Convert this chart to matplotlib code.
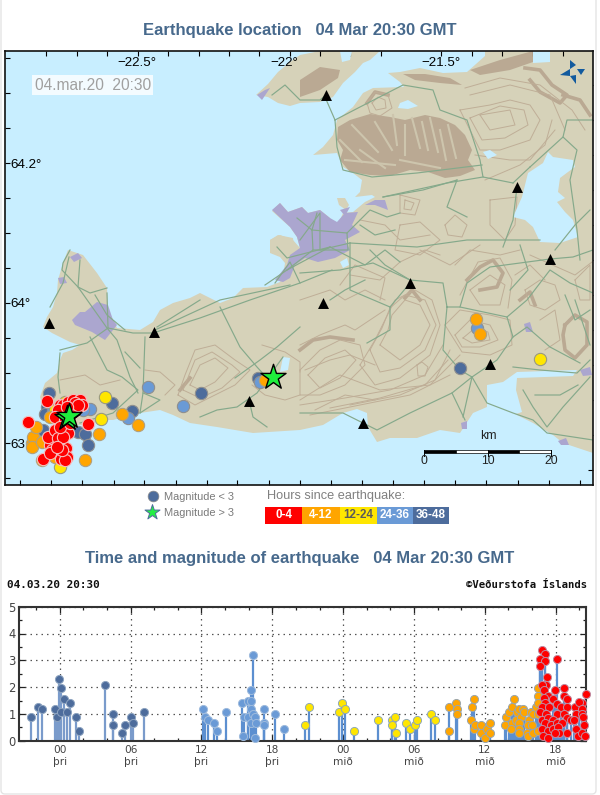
import numpy as np
import matplotlib
matplotlib.use("Agg")
import matplotlib.pyplot as plt
from matplotlib.patches import Polygon, Rectangle, FancyBboxPatch

# ---------- timeline data: hours relative to 00:00 Tuesday, magnitude ----------
t_36_48 = [-2.46,-1.84,-1.53,-.42,-.23,-.06,.14,.34,.14,.59,.88,1.36,1.61,3.84,4.49,4.49,5.31,5.51,6.07,6.16,7.09]
m_36_48 = [.87,1.27,1.18,1.18,.87,2.29,1.96,1.55,1.08,1.08,1.39,.87,.37,2.09,.99,.58,.30,.58,.87,.65,1.07]
t_24_36 = [12.09,12.29,12.57,13.02,13.31,14.04,15.42,15.5,15.62,15.9,15.9,16.16,16.16,16.16,16.16,16.36,16.36,16.53,16.6,16.55,17.29,17.29,17.29,18.22,18.95]
m_24_36 = [1.18,.87,.77,.66,.37,1.07,1.39,.17,.87,1.47,.87,1.89,1.47,1.18,.65,3.18,.99,.87,.65,.09,1.18,.65,.58,.99,.45]
t_12_24 = [20.78,21.15,23.66,23.94,24.2,24.93,26.97,28.18,28.18,28.38,28.46,29.31,29.68,30.07,30.24,31.43,31.8]
m_12_24 = [.58,1.27,1.07,1.39,1.18,.37,.77,.77,.58,.87,.30,.66,.45,.58,.77,.99,.77]
t_4_12 = [33.01,33.01,33.55,33.66,33.66,34.85,34.96,35.05,35.05,35.16,35.69,35.69,36.06,36.23,36.43,36.43,37.7,37.81,38.07,38.27,38.27,38.18,38.46,38.69,38.66,38.92,39.03,38.92,38.92,38.92,39.25,39.31,39.76,39.9,40.1,39.68,39.96,39.54,39.68,40.1,40.3,40.5,40.5,40.5,40.5,40.5]
m_4_12 = [1.27,.37,1.39,1.18,.99,.77,1.27,1.55,.45,.58,.58,.30,.09,.45,.66,.30,.58,.87,1.07,1.27,.66,.45,1.55,1.07,.77,1.18,.87,.65,.45,.27,1.18,1.07,.77,1.07,.99,.58,.58,.30,.17,.30,1.27,1.96,1.68,1.39,.99,.37]
t_0_4 = [40.89,41.09,40.67,41.09,40.67,42.16,41.26,41.15,40.81,40.98,41.91,42.73,41.32,40.98,41.77,42.73,42.98,41.09,42.14,40.89,41.4,42.45,42.93,43.63,44.2,44.54,44.0,40.72,41.15,42.08,42.7,43.69,44.2,44.2,40.89,41.37,41.8,42.93,43.27,43.6,44.28,41.09,41.57,42.08,42.56,44.39,40.89,41.37,41.8,42.2,42.93,43.75,42.3,40.95,41.32,41.94,43.9,44.2,44.5]
m_0_4 = [3.38,3.25,3.06,2.98,2.78,3.06,2.36,2.07,2.07,1.89,1.89,1.96,1.66,1.6,1.54,1.66,1.55,1.39,1.37,1.27,1.27,1.27,1.27,1.27,1.39,1.76,1.45,1.08,.99,.99,.99,.99,1.18,.99,.77,.83,.77,.83,.77,.77,.87,.65,.58,.65,.65,.58,.42,.37,.45,.52,.3,.45,.3,.17,.09,.3,.17,.3,.17]
hour_ticks = [0, 6, 12, 18, 24, 30, 36, 42]
hour_labels = ["00\nþri","06\nþri","12\nþri","18\nþri","00\nmið","06\nmið","12\nmið","18\nmið"]

# ---------- map events, in map grid units ----------
ex_36_48 = [49,47,45,112,132,78,85,88,43,201,460,258]
ey_36_48 = [393,407,414,403,411,432,434,445,430,393,368,378]
ex_24_36 = [90,148,183,128,83,260,477,53]
ey_24_36 = [409,387,406,418,410,382,328,410]
ex_12_24 = [105,101,60,540,65,55]
ey_12_24 = [397,419,467,359,402,410]
ex_4_12 = [122,138,99,85,32,33,36,32,42,50,55,42,476,480,265]
ey_4_12 = [414,425,434,460,443,437,427,447,442,417,457,460,319,334,380]
ex_0_4 = [28,47,88,43,61,66,68,50,50,52,50,48,55,58,63,67,65,62,57,60,63,68,73,80,82,77,72,62,58,55,75,65,60,70,78,67]
ey_0_4 = [422,401,424,459,459,448,433,440,445,450,453,437,430,438,437,457,460,450,447,405,405,402,400,400,405,408,413,413,410,417,403,420,427,423,405,407]
star_x = [67, 69, 273]
star_y = [418, 416, 377]
station_x = [326,517,550,410,323,49,154,249,490,363]
station_y = [95,187,259,283,303,323,332,401,364,423]

# ---------- map graticule ----------
top_ticks = [46,77,107,138,168,199,229,259,290,320,350,381,441,472,502,533,563]
bottom_ticks = [20,51,82,114,144,176,207,237,269,300,331,362,393,424,455,486,518,549,580]
left_ticks = [58,93,128,163,198,233,268,303,338,373,408,443,478]
right_ticks = [85,120,155,190,225,260,295,330,365,400,435,470]

# ---------- map geography ----------
land_main = [(533,51),(485,51),(485,56),(467,72),(443,73),(420,68),(400,72),(388,73),(400,82),(404,87),(373,88),(363,93),(353,107),(337,120),(333,135),(323,147),(313,155),(337,153),(343,167),(353,173),(362,180),(360,192),(355,197),(372,195),(375,197),(365,202),(353,212),(343,213),(338,225),(331,227),(330,218),(320,210),(308,213),(302,207),(288,212),(280,203),(272,211),(290,227),(297,237),(300,248),(293,240),(280,235),(270,240),(270,253),(280,257),(285,263),(283,277),(280,282),(267,287),(243,288),(233,298),(220,303),(200,293),(190,298),(173,303),(160,310),(153,322),(140,330),(117,328),(108,310),(107,288),(97,273),(83,255),(68,250),(63,263),(58,280),(57,293),(53,307),(47,317),(43,327),(52,333),(70,342),(80,345),(72,350),(63,353),(60,360),(57,373),(45,383),(40,397),(45,412),(62,425),(85,425),(107,420),(113,420),(140,413),(160,410),(173,415),(190,423),(217,427),(253,433),(300,430),(323,425),(343,413),(357,409),(367,413),(368,427),(377,442),(390,438),(417,438),(440,430),(460,433),(473,413),(487,407),(513,413),(533,423),(553,435),(563,443),(593,453),(593,51)]
land_north = [(256,95),(268,84),(278,72),(290,62),(300,55),(320,51),(380,51),(370,60),(363,63),(355,72),(343,83),(333,97),(320,102),(300,103),(290,106),(278,103),(268,97)]
land_islands = [[(337,198),(345,198),(349,205),(346,210),(339,205)],[(270,240),(278,235),(293,238),(294,248),(280,256),(270,252)]]
water_bodies = [
    [(548,152),(553,157),(573,160),(575,167),(568,172),(560,178),(558,192),(565,198),(557,202),(565,212),(573,220),(578,237),(560,243),(540,242),(533,227),(525,220),(513,217),(522,197),(528,173),(543,163)],
    [(487,385),(503,382),(517,372),(577,370),(573,376),(517,378),(516,390),(522,412),(513,415),(487,410),(487,400)],
    [(400,103),(408,100),(418,106),(408,109),(398,108)],
    [(483,152),(490,150),(497,155),(488,159)],
    [(340,262),(347,258),(349,265),(343,268)],
    [(283,357),(290,358),(288,370),(280,372)],
    [(533,51),(550,51),(550,62),(533,63)],
    [(340,51),(352,51),(350,60),(342,62)],
]
urban_areas = [
    [(272,210),(280,203),(288,212),(302,207),(308,213),(320,210),(330,218),(337,222),(345,213),(358,212),(352,225),(360,232),(345,240),(350,250),(335,258),(318,262),(305,258),(295,265),(290,278),(283,282),(275,280),(287,265),(290,255),(300,248),(297,237),(290,227)],
    [(365,205),(375,200),(385,200),(388,210),(375,205)],
    [(72,320),(80,312),(85,312),(97,302),(108,305),(113,320),(117,325),(105,340),(92,332),(75,325)],
    [(58,278),(64,277),(67,283),(60,284)],
    [(257,95),(265,90),(270,88),(262,100)],
    [(524,324),(530,322),(533,332),(526,332)],
    [(461,423),(467,421),(467,429),(462,429)],
    [(580,370),(590,367),(592,375),(583,376)],
    [(558,441),(566,438),(569,445),(561,445)],
    [(70,257),(78,253),(82,258),(74,262)],
    [(340,210),(350,207),(345,216)],
]
mountain_areas = [
    [(338,127),(350,120),(370,114),(390,117),(405,120),(425,115),(440,118),(455,125),(465,135),(472,150),(468,160),(475,170),(460,176),(445,178),(428,172),(410,170),(390,176),(370,175),(350,172),(340,160),(343,150),(337,140)],
    [(300,80),(320,67),(340,70),(338,78),(320,90),(300,97)],
    [(470,70),(500,60),(533,51),(533,62),(510,70),(480,75)],
    [(403,74),(425,74),(450,78),(462,85),(440,83),(415,80)],
]
mountain_notches = [[(393,115),(397,145)],[(412,118),(420,148)],[(430,118),(438,152)],[(448,125),(456,158)],[(352,125),(378,152)],[(340,140),(362,162)],[(375,122),(392,150)],[(405,125),(405,155)],[(422,122),(428,150)],[(440,130),(446,160)],[(345,160),(395,165)],[(400,160),(440,168)],[(360,150),(385,168)]]
ridges = [
    [(300,350),(313,340),(330,337),(353,340)],
    [(467,280),(480,267),(493,260),(503,273),(497,287),(480,290)],
    [(565,325),(575,315),(587,322),(587,345),(575,358),(565,350),(563,335),(565,325)],
    [(405,298),(412,290),(420,300)],
    [(525,68),(540,70),(552,85),(567,95),(560,103),(540,92),(530,80)],
    [(563,95),(580,100),(590,115)],
    [(367,103),(375,92),(388,95)],
    [(520,300),(530,292),(535,305)],
    [(180,390),(190,378)],
]
contours = [
    [(380,345),(388,330),(392,315),(405,300),(420,305),(430,325),(420,345),(400,360),(380,345)],
    [(360,365),(375,340),(385,320),(395,300),(415,290),(432,300),(440,325),(430,355),(400,378),(375,385),(360,365)],
    [(370,350),(382,328),(390,308),(405,295),(425,300),(436,325),(425,350),(400,368),(380,372),(370,350)],
    [(350,405),(400,395),(435,380),(450,350)],
    [(310,415),(360,405),(410,395),(450,375)],
    [(330,408),(380,398),(425,385),(448,360)],
    [(300,405),(345,398),(390,390),(425,375),(443,345)],
    [(300,370),(320,350),(340,340),(360,345),(365,365),(345,385),(320,395),(300,395),(300,370)],
    [(308,375),(325,358),(345,350),(356,360),(340,378),(320,388),(308,375)],
    [(300,345),(320,335),(345,325),(355,330),(385,310)],
    [(417,365),(422,362),(428,367),(425,376),(418,376),(417,365)],
    [(445,325),(460,310),(490,315),(510,320),(512,345),(490,355),(462,352),(445,325)],
    [(455,335),(470,320),(490,325),(498,340),(480,347),(462,347),(455,335)],
    [(463,338),(475,328),(488,332),(490,340),(472,343),(463,338)],
    [(60,380),(85,375),(100,385),(120,380)],
    [(178,395),(185,375),(195,350),(215,345),(235,360),(250,370),(235,385),(215,395),(195,405),(178,395)],
    [(190,385),(200,365),(215,358),(228,368),(215,382),(200,390),(190,385)],
    [(183,390),(195,360),(212,352),(232,365),(240,372),(222,388),(200,398),(183,390)],
    [(460,110),(490,105),(510,100),(530,105),(540,120),(530,140),(500,150),(480,150),(470,130),(460,110)],
    [(480,115),(510,110),(515,125),(490,130),(480,115)],
    [(470,118),(500,106),(524,110),(528,125),(505,138),(482,140),(470,118)],
    [(475,155),(510,160),(530,160),(555,130)],
    [(470,95),(510,85),(550,95),(565,130)],
    [(465,88),(500,78),(540,85),(572,110),(585,130)],
    [(485,180),(520,165),(545,145),(552,120)],
    [(445,225),(455,215),(467,225),(462,237),(448,235),(445,225)],
    [(400,195),(420,200),(415,215),(400,213),(400,195)],
    [(405,200),(414,203),(411,210),(404,209),(405,200)],
    [(490,200),(517,197),(515,225),(505,240),(490,225),(490,200)],
    [(367,103),(375,92),(388,95),(392,108),(380,116),(370,113),(367,103)],
    [(372,103),(378,97),(385,100),(386,108),(376,110),(372,103)],
    [(525,290),(540,280),(555,285),(560,300),(545,310),(530,305),(525,290)],
    [(470,290),(490,275),(505,285),(500,305),(480,305),(470,290)],
    [(460,295),(478,262),(500,258),(512,280),(508,308)],
    [(575,280),(590,265),(590,300),(580,300),(575,280)],
    [(300,300),(330,290),(345,300),(365,290),(385,300)],
    [(350,275),(380,280),(400,262),(425,250),(440,255)],
    [(455,265),(470,250),(500,255),(520,250)],
    [(360,220),(385,225),(400,240),(430,235)],
    [(300,400),(340,375),(380,390),(430,385),(460,355)],
    [(315,410),(345,395),(375,400)],
    [(540,320),(555,310),(560,340),(545,350)],
    [(305,370),(330,360),(350,355),(375,365)],
    [(420,250),(450,265),(480,245)],
    [(145,370),(160,372),(175,385),(165,395)],
    [(252,385),(265,395),(285,400),(300,395)],
    [(262,345),(285,352),(300,362),(300,372)],
    [(530,255),(575,275),(592,262)],
    [(515,275),(530,265),(545,280)],
    [(380,300),(385,278),(355,265),(340,285)],
    [(400,225),(420,222),(440,240),(420,255),(395,250),(400,225)],
]
roads = [
    [(153,333),(200,318),(250,300),(300,283),(332,270)],
    [(155,330),(220,300),(290,285)],
    [(70,250),(63,263),(62,270),(78,287),(107,328),(117,340),(130,377),(138,393)],
    [(69,257),(63,283),(50,307)],
    [(80,260),(78,287),(90,293),(107,288)],
    [(107,293),(108,328),(133,333),(153,333)],
    [(60,350),(87,343),(108,328)],
    [(90,337),(107,370),(122,377),(138,390),(113,413),(80,423)],
    [(145,337),(143,393),(140,413)],
    [(200,417),(217,410),(237,407),(257,393),(283,357)],
    [(220,307),(240,347),(257,367),(267,378)],
    [(300,327),(277,347),(260,360),(235,378)],
    [(200,300),(157,327)],
    [(249,400),(253,417),(267,427)],
    [(60,353),(58,377),(60,393)],
    [(300,273),(340,270),(373,263),(410,280),(443,283),(447,307),(443,350),(460,370),(472,377),(497,360),(513,337),(507,317),(460,307),(447,307)],
    [(460,307),(467,283),(490,267),(550,259),(573,257),(593,250)],
    [(300,413),(343,413),(377,430),(410,413),(452,393),(472,377)],
    [(452,393),(465,420)],
    [(472,377),(463,417)],
    [(472,377),(487,403),(513,413),(533,420),(547,433),(593,440)],
    [(523,390),(533,407),(547,427),(563,407),(590,377)],
    [(513,367),(540,370),(577,373),(590,360)],
    [(513,337),(527,327),(550,347),(580,363)],
    [(390,307),(390,330),(367,343)],
    [(390,307),(410,283)],
    [(507,317),(527,300),(550,270),(570,283),(593,293)],
    [(335,120),(325,97)],
    [(335,120),(360,107),(403,85),(433,90),(440,110),(467,120),(480,160),(483,177),(513,183)],
    [(335,120),(337,147),(343,170),(372,177),(417,173),(482,165)],
    [(383,197),(447,183),(483,177)],
    [(383,197),(423,190),(457,180)],
    [(457,180),(447,207),(467,217)],
    [(350,243),(417,247),(467,240),(503,240),(540,240)],
    [(517,187),(513,220),(503,247)],
    [(530,167),(563,137),(577,150),(570,180),(577,230),(580,260)],
    [(563,137),(567,120),(593,120)],
    [(300,240),(320,213),(320,250),(350,243)],
    [(297,218),(312,230),(317,213)],
    [(312,230),(313,250),(287,270)],
    [(312,230),(347,233),(348,250),(313,250)],
    [(277,247),(287,258),(330,247)],
    [(265,285),(287,270),(330,247)],
    [(347,233),(370,210),(387,217),(400,213)],
    [(272,95),(285,85),(300,100),(320,100),(326,95)],
    [(350,243),(350,290),(390,307)],
    [(300,283),(290,262),(275,283)],
    [(513,183),(530,167)],
    [(555,250),(575,225),(590,210)],
    [(575,300),(585,330),(590,345)],
    [(370,250),(385,265),(410,280)],
    [(330,247),(365,265),(385,250),(400,262)],
    [(140,413),(160,400),(143,393)],
    [(125,352),(140,368)],
    [(95,295),(107,315),(125,330)],
    [(360,225),(375,235),(395,230)],
    [(535,395),(560,395),(578,385)],
    [(565,295),(575,320),(590,310)],
    [(520,245),(528,270),(510,290)],
    [(330,300),(345,290),(365,280)],
]
compass_vanes = [[(570,60),(576,65),(570,69)],[(585,69),(577,69),(581,75)],[(560,75),(570,69),(570,76)],[(570,76),(576,84),(576,75)]]
legend_spans = [(265,302,"0-4"),(302,339.5,"4-12"),(339.5,377,"12-24"),(377,413,"24-36"),(413,449,"36-48")]

# ---------- colours ----------
SEA, LAND, BROWN, CONT = "#c8eeff", "#d6d2b9", "#baa993", "#bfae97"
URBAN, ROAD = "#aba6cf", "#85a98b"
C_RED, C_ORANGE, C_YELLOW, C_LBLUE, C_DBLUE = "#ff0000", "#ffa500", "#ffe600", "#6a9ad6", "#4d6c9c"
C_TITLE = "#47698c"
SANS = "Liberation Sans"
W, H = 600, 795

fig = plt.figure(figsize=(W/100, H/100), dpi=100, facecolor="white")
def axes_px(x0, y0, x1, y1, **kw):
    return fig.add_axes([x0/W, 1-y1/H, (x1-x0)/W, (y1-y0)/H], **kw)

# ---------- page layer ----------
page = axes_px(0, 0, W, H, zorder=0)
page.set_xlim(0, W); page.set_ylim(H, 0); page.axis("off")
page.add_patch(FancyBboxPatch((1, -8), 595, 802, boxstyle="round,pad=0,rounding_size=4", fc="white", ec="#e4e4e4", lw=1))
page.text(300, 30, "Earthquake location   04 Mar 20:30 GMT", ha="center", va="center", fontsize=12, fontweight="bold", color=C_TITLE, family=SANS)
page.text(300, 559, "Time and magnitude of earthquake   04 Mar 20:30 GMT", ha="center", va="center", fontsize=12, fontweight="bold", color=C_TITLE, family=SANS)
page.text(7, 585, "04.03.20 20:30", ha="left", va="center", fontsize=7.9, fontweight="bold", family="DejaVu Sans Mono", color="#111111")
page.text(587, 585, "©Veðurstofa Íslands", ha="right", va="center", fontsize=7.7, fontweight="bold", family="DejaVu Sans Mono", color="#111111")

page.scatter([153], [496], s=60, c=C_DBLUE, edgecolors="#8a8a8a", linewidths=.5)
page.scatter([152], [512], s=130, c="#22ee44", marker="*", edgecolors=C_DBLUE, linewidths=.7)
page.text(164, 497, "Magnitude < 3", va="center", fontsize=7.9, color="#7a7a7a", family=SANS)
page.text(164, 513, "Magnitude > 3", va="center", fontsize=7.9, color="#7a7a7a", family=SANS)
page.text(267, 496, "Hours since earthquake:", va="center", fontsize=9.2, color="#808080", family=SANS)
for (a, b, lab), col in zip(legend_spans, [C_RED, C_ORANGE, C_YELLOW, C_LBLUE, C_DBLUE]):
    page.add_patch(Rectangle((a, 507), b-a, 17, fc=col, ec="none"))
    page.text((a+b)/2, 515.5, lab, ha="center", va="center", fontsize=8.4, fontweight="bold",
              color="#5a5a5a" if lab == "12-24" else "white", family=SANS)

# ---------- map ----------
ax = axes_px(4.5, 50.7, 593, 485, zorder=2, facecolor=SEA)
ax.set_xlim(4.5, 593); ax.set_ylim(485, 50.7)
for p in [land_main, land_north] + land_islands:
    ax.add_patch(Polygon(p, closed=True, fc=LAND, ec="none", zorder=1))
for p in mountain_areas:
    ax.add_patch(Polygon(p, closed=True, fc=BROWN, ec="none", zorder=1.2))
for l in mountain_notches:
    ax.plot(*zip(*l), color="#cdc5ad", lw=1.5, zorder=1.3)
for l in ridges:
    ax.plot(*zip(*l), color=BROWN, lw=2.6, zorder=1.4, solid_joinstyle="round")
for l in contours:
    ax.plot(*zip(*l), color=CONT, lw=.7, zorder=1.5)
for p in urban_areas:
    ax.add_patch(Polygon(p, closed=True, fc=URBAN, ec="none", zorder=1.7))
for p in water_bodies:
    ax.add_patch(Polygon(p, closed=True, fc=SEA, ec="none", zorder=1.8))
for l in roads:
    ax.plot(*zip(*l), color=ROAD, lw=.85, zorder=2)
for p in compass_vanes:
    ax.add_patch(Polygon(p, closed=True, fc="#125a9e", ec="none", zorder=2.2))
ax.scatter(station_x, station_y, s=62, marker="^", c="black", linewidths=0, zorder=3)

ax.set_xticks(top_ticks); ax.set_yticks(left_ticks)
ax.tick_params(axis="x", which="major", direction="in", top=True, bottom=False, labeltop=False, labelbottom=False, length=3.5, width=.8)
ax.tick_params(axis="y", which="major", direction="in", left=True, right=False, labelleft=False, length=3.5, width=.8)
secb = ax.secondary_xaxis("bottom"); secb.set_xticks(bottom_ticks); secb.tick_params(direction="in", length=3.5, width=.8, labelbottom=False)
secr = ax.secondary_yaxis("right"); secr.set_yticks(right_ticks); secr.tick_params(direction="in", length=3.5, width=.8, labelright=False)
secb.spines["bottom"].set_visible(False); secr.spines["right"].set_visible(False)
for s in ax.spines.values():
    s.set_linewidth(1.2); s.set_color("#111111")

for x, lab in [(137, "−22.5°"), (284, "−22°"), (441, "−21.5°")]:
    ax.text(x, 63, lab, ha="center", va="center", fontsize=9.6, family=SANS, color="black", zorder=3.2)
for y, lab in [(165, "64.2°"), (304, "64°"), (445, "63.8°")]:
    ax.text(10.5, y, lab, ha="left", va="center", fontsize=9.6, family=SANS, color="black", zorder=3.2)
ax.add_patch(Rectangle((32, 75), 121, 20, fc="white", alpha=.8, ec="none", zorder=3.1))
ax.text(35, 85.5, "04.mar.20  20:30", ha="left", va="center", fontsize=11.2, color="#a0a0a0", family=SANS, zorder=3.2)

for xs, ys, col, ec in [(ex_36_48, ey_36_48, C_DBLUE, "#8f8f8f"), (ex_24_36, ey_24_36, C_LBLUE, "#8f8f8f"),
                        (ex_12_24, ey_12_24, C_YELLOW, "#9a9a80"), (ex_4_12, ey_4_12, C_ORANGE, "#b0a080"),
                        (ex_0_4, ey_0_4, C_RED, "#f4c0c0")]:
    ax.scatter(xs, ys, s=78, c=col, edgecolors=ec, linewidths=.8, zorder=4)
ax.scatter(star_x, star_y, s=360, marker="*", c="#1fee3c", edgecolors="black", linewidths=1, zorder=5)

# scale bar
scale_km = [0, 5, 10, 15, 20]
sx = lambda km: 424 + km*6.35
for a, b, c in zip(scale_km[:-1], scale_km[1:], ["black", "white", "black", "white"]):
    ax.add_patch(Rectangle((sx(a), 449.5), sx(b)-sx(a), 3.5, fc=c, ec="black", lw=.5, zorder=3))
for km in [0, 10, 20]:
    ax.plot([sx(km), sx(km)], [449.5, 456], color="black", lw=.7, zorder=3)
    ax.text(sx(km), 461.5, str(km), ha="center", va="center", fontsize=8.8, family=SANS, zorder=3, color="#222222")
ax.text(488, 436, "km", ha="center", va="center", fontsize=8.8, family=SANS, zorder=3, color="#222222")

# ---------- timeline ----------
tl = axes_px(18.5, 606.7, 585.7, 740.7, zorder=2, facecolor="white")
tl.set_xlim(-3.5, 44.55); tl.set_ylim(0, 5)
tl.set_xticks(hour_ticks); tl.set_xticklabels(hour_labels, fontsize=7.6, color="#444444", family="DejaVu Sans", linespacing=1.25)
tl.set_xticks(np.arange(-2, 45, 2), minor=True)
tl.set_yticks(range(6)); tl.set_yticklabels([str(i) for i in range(6)], fontsize=8.3, color="#444444", family="DejaVu Sans")
tl.set_yticks(np.arange(0, 5.1, .5), minor=True)
tl.tick_params(which="both", direction="in", top=True, right=True, width=.9, color="#222222")
tl.tick_params(which="major", length=4); tl.tick_params(which="minor", length=2.5)
tl.tick_params(axis="x", pad=3); tl.tick_params(axis="y", pad=2)
tl.grid(True, which="major", ls=(0, (1.2, 3.2)), color="#555555", lw=.9)
tl.set_axisbelow(True)
for s in tl.spines.values():
    s.set_linewidth(1.5); s.set_color("#333333")
groups = [(t_36_48, m_36_48, C_DBLUE, "#7a9bcb", "#8ea4c0"), (t_24_36, m_24_36, C_LBLUE, "#5c8fd0", "#9fbbdd"),
          (t_12_24, m_12_24, C_YELLOW, "#5c8fd0", "#8fa8b8"), (t_4_12, m_4_12, C_ORANGE, "#5c8fd0", "#9aa6ac"),
          (t_0_4, m_0_4, C_RED, "#5c8fd0", "#c08aa0")]
for ts, ms, col, stem, ec in groups:
    tl.vlines(ts, 0, ms, color=stem, lw=1.6, zorder=2)
for ts, ms, col, stem, ec in groups:
    tl.scatter(ts, ms, s=34, c=col, edgecolors=ec, linewidths=.7, zorder=3, clip_on=False)

fig.savefig("out.png", dpi=100, facecolor="white")
